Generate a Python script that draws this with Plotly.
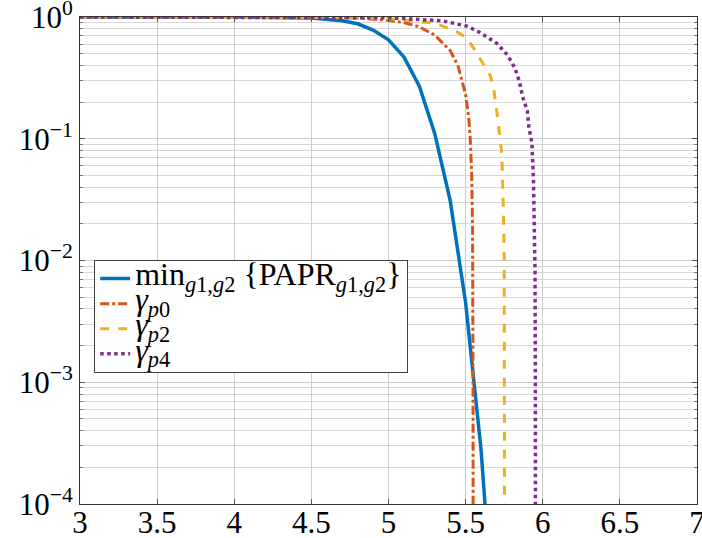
import plotly.graph_objects as go

# ---- data ----
x_min = [3.0, 3.5, 4.0, 4.5, 4.6, 4.7, 4.8, 4.9, 5.0, 5.1, 5.2, 5.3, 5.4, 5.5, 5.6, 5.7]
y_min = [1.0, 1.0, 1.0, 0.98, 0.96, 0.93, 0.88, 0.78, 0.65, 0.47, 0.27, 0.11, 0.031, 0.0045, 0.00028, 0.000005]

x_p0 = [3.0, 4.0, 4.5, 4.8, 5.0, 5.1, 5.2, 5.3, 5.4, 5.45, 5.5, 5.52, 5.53, 5.54, 5.545, 5.548, 5.549]
y_p0 = [1.0, 1.0, 0.996, 0.98, 0.94, 0.90, 0.83, 0.71, 0.53, 0.40, 0.23, 0.15, 0.10, 0.048, 0.018, 0.001, 0.00001]

x_p2 = [3.0, 4.0, 4.5, 4.8, 5.0, 5.2, 5.3, 5.44, 5.51, 5.57, 5.62, 5.66, 5.68, 5.70, 5.71, 5.735, 5.74, 5.745, 5.75, 5.752, 5.753]
y_p2 = [1.0, 1.0, 0.998, 0.99, 0.97, 0.92, 0.89, 0.76, 0.67, 0.51, 0.40, 0.33, 0.27, 0.18, 0.14, 0.074, 0.049, 0.025, 0.011, 0.001, 0.00001]

x_p4 = [3.0, 4.0, 4.5, 4.8, 5.0, 5.16, 5.35, 5.51, 5.59, 5.70, 5.77, 5.82, 5.85, 5.87, 5.90, 5.91, 5.93, 5.94, 5.945, 5.95, 5.952, 5.953]
y_p4 = [1.0, 1.0, 0.999, 0.995, 0.985, 0.96, 0.93, 0.84, 0.75, 0.61, 0.49, 0.38, 0.29, 0.22, 0.17, 0.125, 0.092, 0.045, 0.017, 0.008, 0.001, 0.00001]

names = [
    "min<sub><i>g</i>1,<i>g</i>2</sub> {PAPR<sub><i>g</i>1,<i>g</i>2</sub>}",
    "<i>γ</i><sub><i>p</i>0</sub>",
    "<i>γ</i><sub><i>p</i>2</sub>",
    "<i>γ</i><sub><i>p</i>4</sub>",
]

x_ticks = [3, 3.5, 4, 4.5, 5, 5.5, 6, 6.5, 7]
x_tick_text = ["3", "3.5", "4", "4.5", "5", "5.5", "6", "6.5", "7"]
y_ticks = [1e-4, 1e-3, 1e-2, 1e-1, 1]
y_tick_text = ["10<sup>−4</sup>", "10<sup>−3</sup>", "10<sup>−2</sup>", "10<sup>−1</sup>", "10<sup>0</sup>"]

# ---- styling ----
colors = ["#0072BD", "#D95319", "#EDB120", "#7E2F8E"]
dashes = ["solid", "dashdot", "dash", "dot"]
widths = [3.5, 3, 3, 3.5]
legend_text_px = 32

fig = go.Figure()
for xs, ys, nm, c, d, w in zip([x_min, x_p0, x_p2, x_p4], [y_min, y_p0, y_p2, y_p4], names, colors, dashes, widths):
    fig.add_trace(go.Scatter(
        x=xs, y=ys, mode="lines",
        name=f'<span style="font-size:{legend_text_px}px">{nm}</span>',
        line=dict(color=c, dash=d, width=w)))

minor_vals = [m * 10.0 ** e for e in range(-4, 0) for m in range(2, 10)]

font_family = "Liberation Serif, DejaVu Serif, serif"
fig.update_layout(
    width=702, height=538,
    margin=dict(l=80, r=5, t=17, b=34),
    paper_bgcolor="white", plot_bgcolor="white",
    font=dict(family=font_family, size=26, color="black"),
    legend=dict(x=0.023, y=0.501, xanchor="left", yanchor="top",
                bgcolor="white", bordercolor="#404040", borderwidth=1,
                font=dict(size=17, family=font_family), tracegroupgap=0,
                itemwidth=30),
    showlegend=True,
)
fig.update_xaxes(range=[3, 7], tickvals=x_ticks, ticktext=x_tick_text,
                 automargin=False, ticklabeloverflow="allow", ticklabelstandoff=-9,
                 showgrid=True, gridcolor="#cccccc", gridwidth=1,
                 showline=True, linecolor="#333333", linewidth=1, mirror="ticks",
                 ticks="inside", ticklen=5, tickcolor="#555555",
                 tickfont=dict(size=31, family=font_family), zeroline=False)
fig.update_yaxes(type="log", range=[-4, 0], tickvals=y_ticks, ticktext=y_tick_text,
                 automargin=False, ticklabeloverflow="allow",
                 showgrid=True, gridcolor="#cccccc", gridwidth=1,
                 showline=True, linecolor="#333333", linewidth=1, mirror="ticks",
                 ticks="inside", ticklen=5, tickcolor="#555555",
                 tickfont=dict(size=31, family=font_family), zeroline=False,
                 minor=dict(tickvals=minor_vals, showgrid=True, gridcolor="#d8d8d8",
                            ticks="inside", ticklen=3, tickcolor="#777777"))

fig.write_html("out.html", config={"displayModeBar": False},
               post_script="document.body.style.margin='0px';document.body.style.overflow='hidden';")
